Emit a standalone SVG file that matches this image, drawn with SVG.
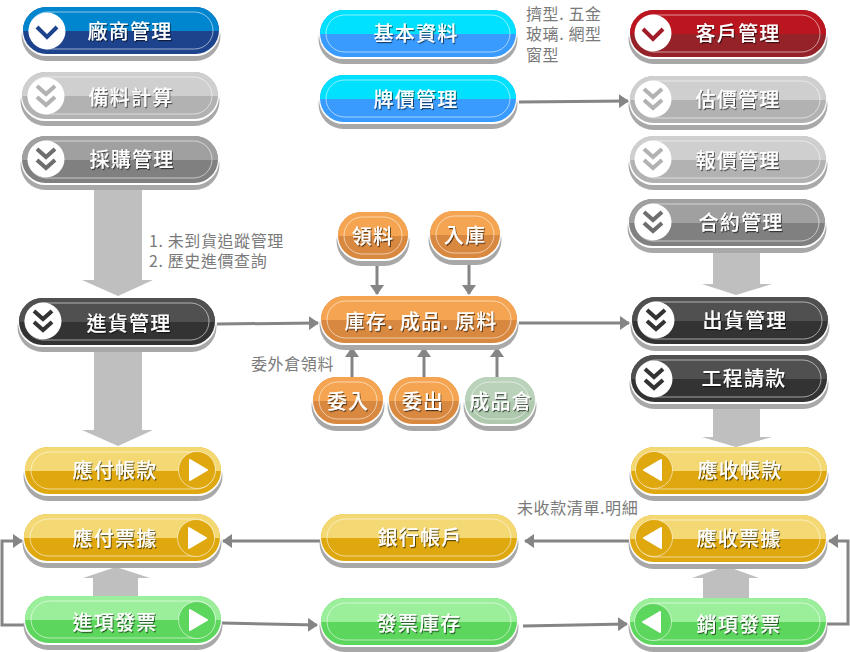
<svg xmlns="http://www.w3.org/2000/svg" xmlns:xlink="http://www.w3.org/1999/xlink" width="850" height="652" viewBox="0 0 850 652">
<style>
text{font-family:"Noto Sans CJK TC","Liberation Sans",sans-serif}
.l{font-size:20px;letter-spacing:1.2px;fill:#fff;text-anchor:middle;dominant-baseline:central;font-weight:500;filter:url(#ts);transform:translateY(-1px)}
.n{font-size:16px;fill:#7a7a7a;letter-spacing:.6px}
.blue{--t:#0085cf;--b:#1c438c;--c:#1c438c}
.red{--t:#bb1520;--b:#952228;--c:#a01c28}
.lg{--t:#cfcfcf;--b:#b2b2b2;--c:#b2b2b2}
.mg{--t:#a0a0a0;--b:#808080;--c:#6e6e6e}
.dk{--t:#505050;--b:#333;--c:#333}
.cy{--t:#00e0ff;--b:#3a9bff}
.au{--t:#f3d873;--b:#dfa80f;--c:#dfa80f}
.gn{--t:#9bef9b;--b:#5cd65c;--c:#5cd65c}
.or{--t:#f5a552;--b:#d98840}
.sg{--t:#bad2ba;--b:#aec9ae}
.fat{fill:#bfbfbf}
.th{fill:none;stroke:#858585;stroke-width:3;marker-end:url(#ah)}
.ch{fill:none;stroke:var(--c);stroke-width:4}
.ci{fill:#fff}
.cc{fill:var(--c);stroke:none}
.rg{fill:none;stroke:#fff;stroke-opacity:.55;stroke-width:1}
.tr{fill:#fff;stroke:#fff;stroke-width:2;stroke-linejoin:round}
</style>
<defs>
<filter id="ts" x="-10%" y="-20%" width="120%" height="150%"><feDropShadow dx="1" dy="1.2" stdDeviation=".7" flood-color="#000" flood-opacity=".6"/></filter>
<marker id="ah" markerUnits="userSpaceOnUse" markerWidth="14" markerHeight="14" refX="9" refY="7" orient="auto"><path d="M0 0L10 7L0 14Z" fill="#858585"/></marker>
<g id="big">
<rect x="-1.5" y="4" width="199" height="50" rx="25" fill="#a8a8a8"/>
<rect x="-1" y="0" width="198" height="49" rx="24.5" fill="#fff"/>
<rect width="196" height="47" rx="23.5" fill="var(--b)"/>
<path d="M0 24V23.5A23.5 23.5 0 0 1 23.5 0H172.5A23.5 23.5 0 0 1 196 23.5V24Z" fill="var(--t)"/>
<rect x="6" y="5" width="184" height="37" rx="18.5" fill="none" stroke="#fff" stroke-opacity=".55"/>
</g>
<g id="small">
<rect x="-1.5" y="4" width="73" height="50" rx="25" fill="#a8a8a8"/>
<rect x="-1" y="0" width="72" height="49" rx="24.5" fill="#fff"/>
<rect width="70" height="47" rx="23.5" fill="var(--b)"/>
<path d="M0 24V23.5A23.5 23.5 0 0 1 23.5 0H46.5A23.5 23.5 0 0 1 70 23.5V24Z" fill="var(--t)"/>
<rect x="6" y="5" width="58" height="37" rx="18.5" fill="none" stroke="#fff" stroke-opacity=".55"/>
</g>
<g id="one"><circle class="ci" r="18.5"/><path class="ch" d="M-10 -4L0 6L10 -4"/></g>
<g id="two"><circle class="ci" r="18.5"/><path class="ch" d="M-9 -10L0 -2L9 -10M-9 1L0 9L9 1"/></g>
<g id="pr"><circle class="cc" r="18.5"/><circle class="rg" r="18.5"/><path class="tr" d="M-7 -10L10 0L-7 10Z"/></g>
<g id="pl"><circle class="cc" r="18.5"/><circle class="rg" r="18.5"/><path class="tr" d="M7 -10L-10 0L7 10Z"/></g>
</defs>
<g id="connectors">
<path class="fat" d="M94 190H142V280H153L118 296L82 280H94Z"/>
<path class="fat" d="M94 347H142V430H153L118 446L82 430H94Z"/>
<path class="fat" d="M713 250H760V284H772L736 295L702 284H713Z"/>
<path class="fat" d="M713 408H760V437H772L736 447L702 437H713Z"/>
<path class="fat" d="M93 597V578H83L116 567L150 578H138V597Z"/>
<path class="fat" d="M703 600V578H692L726 566L759 578H749V600Z"/>
<path class="th" d="M519 102L628 101"/>
<path class="th" d="M217 324L318 323"/>
<path class="th" d="M519 323L629 323"/>
<path class="th" d="M377 265V294"/>
<path class="th" d="M469 265V294"/>
<path class="th" d="M352 378V348"/>
<path class="th" d="M424 378V348"/>
<path class="th" d="M497 378V348"/>
<path class="th" d="M320 541H223"/>
<path class="th" d="M630 541H525"/>
<path class="th" d="M222 623L317 625"/>
<path class="th" d="M523 626L627 624"/>
<path class="th" d="M26 625H2V541H22"/>
<path class="th" d="M827 624H848V541H829"/>
</g>
<g id="n-vendor" class="blue"><use href="#big" x="23" y="7"/><use href="#one" x="47" y="31"/><text class="l" x="130" y="31">廠商管理</text></g>
<g id="n-calc" class="lg"><use href="#big" x="22" y="72"/><use href="#two" x="46" y="96"/><text class="l" x="131" y="97">備料計算</text></g>
<g id="n-purchase" class="mg"><use href="#big" x="22" y="136"/><use href="#two" x="46" y="159"/><text class="l" x="132" y="159">採購管理</text></g>
<g id="n-basic" class="cy"><use href="#big" x="320" y="10"/><text class="l" x="416" y="33">基本資料</text></g>
<g id="n-price" class="cy"><use href="#big" x="320" y="75"/><text class="l" x="416" y="99">牌價管理</text></g>
<g id="n-customer" class="red"><use href="#big" x="630" y="10"/><use href="#one" x="653" y="33"/><text class="l" x="738" y="33">客戶管理</text></g>
<g id="n-estimate" class="lg"><use href="#big" x="630" y="76"/><use href="#two" x="653" y="99"/><text class="l" x="738" y="99">估價管理</text></g>
<g id="n-quote" class="lg"><use href="#big" x="630" y="136"/><use href="#two" x="653" y="159"/><text class="l" x="738" y="160">報價管理</text></g>
<g id="n-contract" class="mg"><use href="#big" x="629" y="199"/><use href="#two" x="653" y="222"/><text class="l" x="741" y="222">合約管理</text></g>
<g id="n-ship" class="dk"><use href="#big" x="632" y="297"/><use href="#two" x="656" y="320"/><text class="l" x="745" y="320">出貨管理</text></g>
<g id="n-bill" class="dk"><use href="#big" x="631" y="355"/><use href="#two" x="654" y="379"/><text class="l" x="744" y="378">工程請款</text></g>
<g id="n-receive" class="dk"><use href="#big" x="19" y="298"/><use href="#two" x="43" y="321"/><text class="l" x="129" y="323">進貨管理</text></g>
<g id="n-ap" class="au"><use href="#big" x="25" y="447"/><use href="#pr" x="197" y="470"/><text class="l" x="115" y="470">應付帳款</text></g>
<g id="n-apn" class="au"><use href="#big" x="24" y="514"/><use href="#pr" x="196" y="538"/><text class="l" x="115" y="538">應付票據</text></g>
<g id="n-inv-in" class="gn"><use href="#big" x="25" y="596"/><use href="#pr" x="197" y="620"/><text class="l" x="115" y="622">進項發票</text></g>
<g id="n-bank" class="au"><use href="#big" x="321" y="514"/><text class="l" x="420" y="537">銀行帳戶</text></g>
<g id="n-inv-stock" class="gn"><use href="#big" x="321" y="598"/><text class="l" x="419" y="623">發票庫存</text></g>
<g id="n-ar" class="au"><use href="#big" x="631" y="447"/><use href="#pl" x="654" y="470"/><text class="l" x="740" y="470">應收帳款</text></g>
<g id="n-arn" class="au"><use href="#big" x="630" y="515"/><use href="#pl" x="654" y="538"/><text class="l" x="739" y="538">應收票據</text></g>
<g id="n-inv-out" class="gn"><use href="#big" x="630" y="598"/><use href="#pl" x="653" y="622"/><text class="l" x="739" y="624">銷項發票</text></g>
<g id="n-stock" class="or"><use href="#big" x="321" y="296"/><text class="l" x="421" y="321">庫存. 成品. 原料</text></g>
<g id="n-pick" class="or"><use href="#small" x="338" y="212"/><text class="l" x="373" y="236">領料</text></g>
<g id="n-in" class="or"><use href="#small" x="430" y="211"/><text class="l" x="465" y="235">入庫</text></g>
<g id="n-outin" class="or"><use href="#small" x="313" y="377"/><text class="l" x="348" y="401">委入</text></g>
<g id="n-outout" class="or"><use href="#small" x="389" y="377"/><text class="l" x="423" y="401">委出</text></g>
<g id="n-fg" class="sg"><use href="#small" x="465" y="377"/><text class="l" x="501" y="401">成品倉</text></g>
<g id="notes">
<text class="n" x="149" y="247">1. 未到貨追蹤管理</text>
<text class="n" x="149" y="267">2. 歷史進價查詢</text>
<text class="n" x="526" y="20">擠型. 五金</text>
<text class="n" x="526" y="40">玻璃. 網型</text>
<text class="n" x="526" y="61">窗型</text>
<text class="n" x="251" y="370">委外倉領料</text>
<text class="n" x="517" y="514">未收款清單.明細</text>
</g>
</svg>
